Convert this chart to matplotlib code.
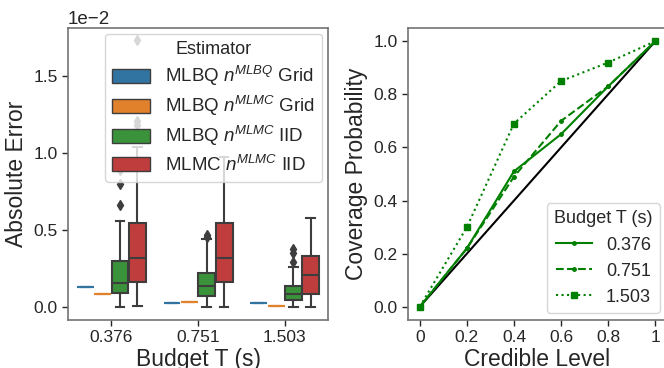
import matplotlib
matplotlib.use("Agg")
import matplotlib.pyplot as plt
from matplotlib.patches import Patch
from matplotlib.ticker import MultipleLocator

plt.rcParams['font.family'] = ['Liberation Sans', 'DejaVu Sans']
plt.rcParams['mathtext.fontset'] = 'custom'
plt.rcParams['mathtext.it'] = 'Liberation Sans:italic'
plt.rcParams['mathtext.rm'] = 'Liberation Sans'
plt.rcParams['text.color'] = '0.15'
plt.rcParams['axes.labelcolor'] = '0.15'
plt.rcParams['xtick.color'] = '0.15'
plt.rcParams['ytick.color'] = '0.15'

# ---- left panel: absolute error boxplots (values in units of 1e-2) ----
budgets = ["0.376", "0.751", "1.503"]
estimators = [r"MLBQ $n^{MLBQ}$ Grid", r"MLBQ $n^{MLMC}$ Grid",
              r"MLBQ $n^{MLMC}$ IID", r"MLMC $n^{MLMC}$ IID"]
est_colors = ["#3274a1", "#e1812c", "#3a923a", "#c03d3e"]

# [budget][estimator]
q1 = [[0.132, 0.086, 0.093, 0.164],
      [0.024, 0.030, 0.073, 0.164],
      [0.026, 0.005, 0.045, 0.084]]
med = [[0.132, 0.086, 0.158, 0.316],
       [0.024, 0.030, 0.136, 0.316],
       [0.026, 0.005, 0.082, 0.210]]
q3 = [[0.132, 0.086, 0.300, 0.545],
      [0.024, 0.030, 0.223, 0.547],
      [0.026, 0.005, 0.136, 0.333]]
wlo = [[0.132, 0.086, 0.002, 0.008],
       [0.024, 0.030, 0.002, 0.000],
       [0.026, 0.005, 0.001, 0.003]]
whi = [[0.132, 0.086, 0.560, 1.040],
       [0.024, 0.030, 0.440, 0.976],
       [0.026, 0.005, 0.260, 0.578]]
outliers = [[[], [], [0.66, 0.80, 0.89], [1.18, 1.21, 1.73]],
            [[], [], [0.455, 0.47], []],
            [[], [], [0.29, 0.35, 0.375], []]]

# ---- right panel: coverage ----
credible = [0, 0.2, 0.4, 0.6, 0.8, 1]
cov_0376 = [0, 0.22, 0.51, 0.65, 0.83, 1.0]
cov_0751 = [0, 0.22, 0.49, 0.70, 0.83, 1.0]
cov_1503 = [0, 0.30, 0.69, 0.85, 0.92, 1.0]

fig = plt.figure(figsize=(6.64, 3.68), dpi=100)
ax1 = fig.add_axes([0.1024, 0.1304, 0.3916, 0.7935])
ax2 = fig.add_axes([0.6145, 0.1304, 0.3900, 0.7935])

edge = '#3d3d3d'
offsets = [-0.3, -0.1, 0.1, 0.3]
for i in range(len(budgets)):
    for j in range(len(estimators)):
        st = [dict(med=med[i][j] * 1e-2, q1=q1[i][j] * 1e-2, q3=q3[i][j] * 1e-2,
                   whislo=wlo[i][j] * 1e-2, whishi=whi[i][j] * 1e-2,
                   fliers=[v * 1e-2 for v in outliers[i][j]])]
        flat = q1[i][j] == q3[i][j]
        lc = est_colors[j] if flat else edge
        ax1.bxp(st, positions=[i + offsets[j]], widths=0.196, patch_artist=True,
                showfliers=True, manage_ticks=False,
                boxprops=dict(facecolor=est_colors[j], edgecolor=lc, linewidth=1.5),
                medianprops=dict(color=lc, linewidth=1.5),
                whiskerprops=dict(color=lc, linewidth=1.5),
                capprops=dict(color=lc, linewidth=1.5),
                flierprops=dict(marker='d', markerfacecolor=edge, markeredgecolor=edge,
                                markersize=5))

ax1.set_xlim(-0.5, 2.5)
ax1.set_ylim(-0.084e-2, 1.81e-2)
ax1.set_xticks(range(len(budgets)))
ax1.set_xticklabels(budgets)
ax1.yaxis.set_major_locator(MultipleLocator(0.5e-2))
ax1.ticklabel_format(axis='y', style='sci', scilimits=(0, 0))
ax1.yaxis.get_offset_text().set_fontsize(13.5)
ax1.set_xlabel("Budget T (s)", fontsize=16.5, labelpad=2)
ax1.set_ylabel("Absolute Error", fontsize=16.5)
handles = [Patch(facecolor=c, edgecolor=edge, linewidth=1.0) for c in est_colors]
leg1 = ax1.legend(handles, estimators, title="Estimator", loc='upper right',
                  fontsize=13.5, title_fontsize=13, framealpha=0.8,
                  edgecolor='0.8', borderaxespad=0.3, labelspacing=0.32,
                  handleheight=0.75, handlelength=2.0)

g = '#008000'
ax2.plot([0, 1], [0, 1], color='black', linewidth=1.5)
ax2.plot(credible, cov_0376, color=g, linestyle='-', marker='.', markersize=5,
         linewidth=1.5, label="0.376")
ax2.plot(credible, cov_0751, color=g, linestyle='--', marker='.', markersize=5,
         linewidth=1.5, label="0.751")
ax2.plot(credible, cov_1503, color=g, linestyle=':', marker='s', markersize=4,
         linewidth=1.5, label="1.503")
ax2.set_xlim(-0.05, 1.05)
ax2.set_ylim(-0.05, 1.05)
ax2.set_xticks(credible)
ax2.set_xticklabels(["0", "0.2", "0.4", "0.6", "0.8", "1"])
ax2.set_yticks([0, 0.2, 0.4, 0.6, 0.8, 1.0])
ax2.set_yticklabels(["0.0", "0.2", "0.4", "0.6", "0.8", "1.0"])
ax2.set_xlabel("Credible Level", fontsize=16.5, labelpad=2)
ax2.set_ylabel("Coverage Probability", fontsize=16.5)
ax2.legend(title="Budget T (s)", loc='lower right', fontsize=13, title_fontsize=13,
           framealpha=0.8, edgecolor='0.8', borderaxespad=0.4)

for ax in (ax1, ax2):
    ax.tick_params(labelsize=12.5, length=4, width=1.0)
    for sp in ax.spines.values():
        sp.set_color('0.45')
        sp.set_linewidth(1.2)

fig.savefig("out.png", dpi=100)
